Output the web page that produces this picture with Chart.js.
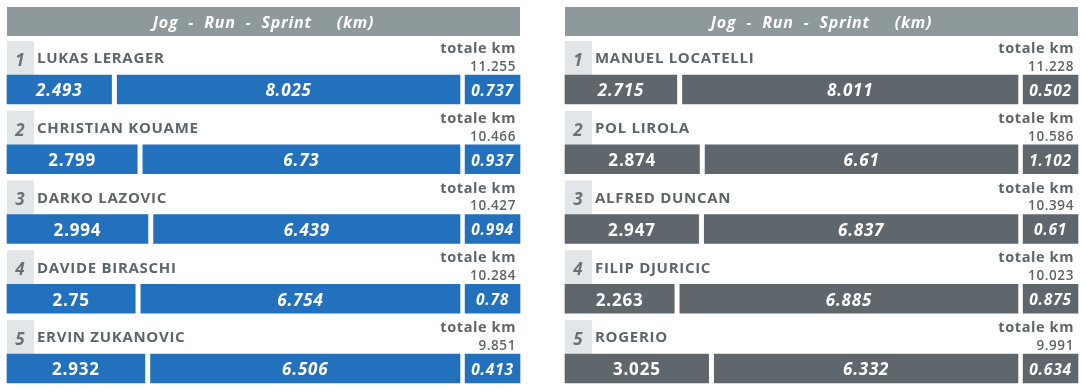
<!DOCTYPE html>
<html>
<head>
<meta charset="utf-8">
<script src="https://cdn.jsdelivr.net/npm/chart.js@4/dist/chart.umd.min.js"></script>
<style>
  html, body { margin: 0; padding: 0; background: #fff; }
  #wrap { position: relative; width: 1086px; height: 391px; overflow: hidden; }
  canvas { position: absolute; top: 0; }
  #left { left: 0; }
  #right { left: 558px; }
</style>
</head>
<body>
<div id="wrap">
  <canvas id="left" width="530" height="391"></canvas>
  <canvas id="right" width="530" height="391"></canvas>
</div>
<script>
// Squadra 1
const players1 = ['LUKAS LERAGER', 'CHRISTIAN KOUAME', 'DARKO LAZOVIC', 'DAVIDE BIRASCHI', 'ERVIN ZUKANOVIC'];
const jog1 = [2.493, 2.799, 2.994, 2.75, 2.932];
const run1 = [8.025, 6.73, 6.439, 6.754, 6.506];
const sprint1 = [0.737, 0.937, 0.994, 0.78, 0.413];
const total1 = ['11.255', '10.466', '10.427', '10.284', '9.851'];

// Squadra 2
const players2 = ['MANUEL LOCATELLI', 'POL LIROLA', 'ALFRED DUNCAN', 'FILIP DJURICIC', 'ROGERIO'];
const jog2 = [2.715, 2.874, 2.947, 2.263, 3.025];
const run2 = [8.011, 6.61, 6.837, 6.885, 6.332];
const sprint2 = [0.502, 1.102, 0.61, 0.875, 0.634];
const total2 = ['11.228', '10.586', '10.394', '10.023', '9.991'];

const headerText = 'Jog  -  Run  -  Sprint     (km)';
const FONT = '"Open Sans", "DejaVu Sans", sans-serif';

// scala x 0..100: jog+run fino a RUN_END, sprint in un box a parte
const RUN_END = 88.3;
const SPRINT_START = 89.3;
const GAP = 0.55;

function makeChart(id, players, jog, run, sprint, totals, color) {
  const ranks = players.map((_, i) => String(i + 1));
  const jogBars = jog.map((v, i) => [0, v / (v + run[i]) * RUN_END - GAP]);
  const runBars = run.map((v, i) => [jog[i] / (jog[i] + v) * RUN_END + GAP, RUN_END]);
  const sprintBars = sprint.map(() => [SPRINT_START, 100]);

  const labelsPlugin = {
    id: 'labels',
    beforeDatasetsDraw(chart) {
      const c = chart.ctx;
      const area = chart.chartArea;
      c.save();
      // testata
      c.fillStyle = '#8e999b';
      c.fillRect(area.left, 7, area.right - area.left, 29);
      c.fillStyle = '#ffffff';
      c.font = 'italic bold 16px ' + FONT;
      c.letterSpacing = '0.8px';
      c.textAlign = 'center';
      c.textBaseline = 'middle';
      c.fillText(headerText, (area.left + area.right) / 2, 23);

      const meta = chart.getDatasetMeta(0);
      meta.data.forEach((bar, i) => {
        const top = bar.y - bar.height / 2;
        // box posizione
        c.fillStyle = '#e3e6e8';
        c.fillRect(area.left, top - 34, 27, 34);
        c.fillStyle = '#6b7175';
        c.letterSpacing = '0px';
        c.font = 'italic bold 17px ' + FONT;
        c.textAlign = 'center';
        c.fillText(ranks[i], area.left + 13, top - 14);
        // nome
        c.fillStyle = '#5e6569';
        c.font = 'bold 15px ' + FONT;
        c.letterSpacing = '0.7px';
        c.textAlign = 'left';
        c.fillText(players[i], area.left + 30, top - 16);
        // totale km
        c.textAlign = 'right';
        c.font = 'bold 14.5px ' + FONT;
        c.letterSpacing = '0.6px';
        c.fillText('totale km', area.right - 4, top - 26);
        c.font = '600 13.5px ' + FONT;
        c.fillText(totals[i], area.right - 4, top - 8);
      });
      c.restore();
    },
    afterDatasetsDraw(chart) {
      const c = chart.ctx;
      c.save();
      c.fillStyle = '#ffffff';
      c.textAlign = 'center';
      c.textBaseline = 'middle';
      c.letterSpacing = '0.8px';
      const values = [jog, run, sprint];
      values.forEach((vals, d) => {
        chart.getDatasetMeta(d).data.forEach((bar, i) => {
          const mid = (bar.x + bar.base) / 2;
          c.font = (d === 2 ? 'italic bold 15.5px ' : 'bold 17px ') + FONT;
          if (d === 1 || (d === 0 && i === 0)) c.font = 'italic bold 17px ' + FONT;
          c.fillText(String(vals[i]), mid, bar.y + 2);
        });
      });
      c.restore();
    }
  };

  const mk = (data) => ({
    data: data,
    backgroundColor: color,
    borderWidth: 0,
    barThickness: 29,
    grouped: false,
    clip: false
  });

  new Chart(document.getElementById(id).getContext('2d'), {
    type: 'bar',
    data: {
      labels: players,
      datasets: [mk(jogBars), mk(runBars), mk(sprintBars)]
    },
    options: {
      indexAxis: 'y',
      responsive: false,
      animation: false,
      layout: { padding: { left: 7, right: 10, top: 89.5, bottom: 22.5 } },
      scales: {
        x: { display: false, min: 0, max: 100 },
        y: { display: false, offset: false, grid: { display: false } }
      },
      plugins: { legend: { display: false }, tooltip: { enabled: false } }
    },
    plugins: [labelsPlugin]
  });
}

makeChart('left', players1, jog1, run1, sprint1, total1, '#2371bc');
makeChart('right', players2, jog2, run2, sprint2, total2, '#5f676d');
</script>
</body>
</html>
